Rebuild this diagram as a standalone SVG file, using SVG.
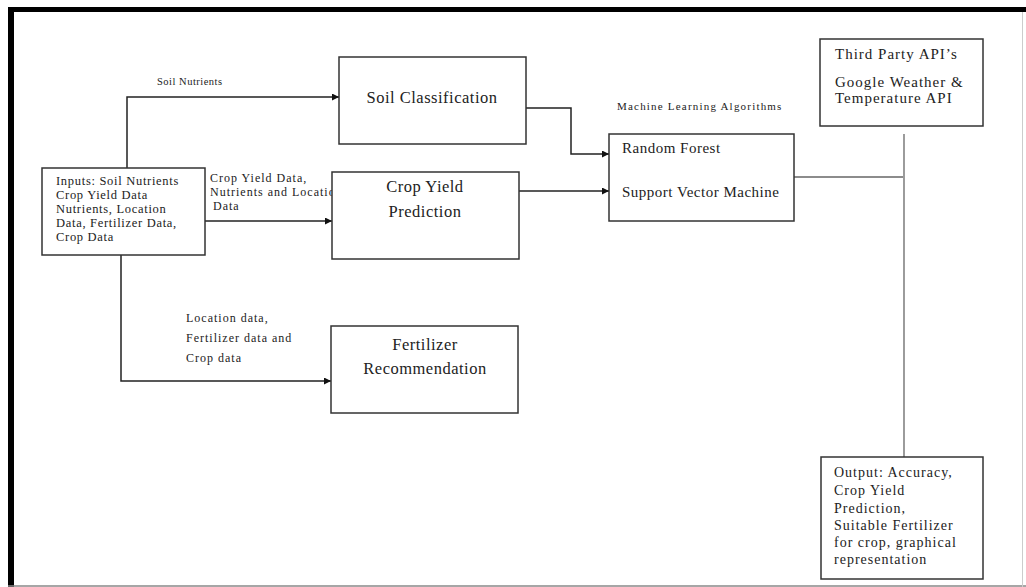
<svg xmlns="http://www.w3.org/2000/svg" width="1026" height="587" viewBox="0 0 1026 587">
<style>
.box{fill:#fff;stroke:#333;stroke-width:1.5}
.t{font-family:"Liberation Serif","Times New Roman",serif;fill:#222}
.title{font-family:"Liberation Serif","Times New Roman",serif;font-size:16.5px;text-anchor:middle;letter-spacing:0.5px}
.lbl{font-size:12px;letter-spacing:1px}
.in{font-size:12.5px;letter-spacing:0.7px}
.ml{font-size:15px;letter-spacing:0.5px}
.tp{font-size:15px;letter-spacing:1px}
.out{font-size:14px;letter-spacing:1px}
.conn{fill:none;stroke:#222;stroke-width:1.5}
.thin{fill:none;stroke:#666;stroke-width:1.3}
</style>
<defs>
<marker id="arr" viewBox="0 0 10 10" refX="10" refY="5" markerWidth="7" markerHeight="7" markerUnits="userSpaceOnUse" orient="auto">
<path d="M0,0 L10,5 L0,10 z" fill="#111"/>
</marker>
</defs>
<rect x="0" y="0" width="1026" height="587" fill="#fff"/>
<g id="frame">
<line x1="11" y1="7" x2="11" y2="587" stroke="#000" stroke-width="6"/>
<line x1="8" y1="9.5" x2="1026" y2="9.5" stroke="#000" stroke-width="5"/>
<line x1="8" y1="586" x2="1026" y2="586" stroke="#888" stroke-width="1.5"/>
<line x1="1022.5" y1="12" x2="1022.5" y2="587" stroke="#ccc" stroke-width="1"/>
</g>
<g id="connectors">
<path class="conn" d="M127,168 V97 H339" marker-end="url(#arr)"/>
<path class="conn" d="M205,221 H332" marker-end="url(#arr)"/>
<path class="conn" d="M121,255 V381 H331" marker-end="url(#arr)"/>
<path class="conn" d="M526,108 H571 V154 H609" marker-end="url(#arr)"/>
<path class="conn" d="M519,191 H609" marker-end="url(#arr)"/>
<path class="thin" d="M794,177 H903"/>
<path class="thin" d="M904,134 V457"/>
<text class="t" x="157" y="85" font-size="10.5" letter-spacing="0.5">Soil Nutrients</text>
<text class="t lbl" x="210" y="182">Crop Yield Data,</text>
<text class="t lbl" x="210" y="196">Nutrients and Locatio</text>
<text class="t lbl" x="213" y="210">Data</text>
<text class="t lbl" x="186" y="322">Location data,</text>
<text class="t lbl" x="186" y="342">Fertilizer data and</text>
<text class="t lbl" x="186" y="362">Crop data</text>
<text class="t" x="617" y="110" font-size="11" letter-spacing="1.2">Machine Learning Algorithms</text>
</g>
<g id="inputs">
<rect class="box" x="42" y="168" width="163" height="87"/>
<text class="t in" x="56" y="185">Inputs: Soil Nutrients</text>
<text class="t in" x="56" y="199">Crop Yield Data</text>
<text class="t in" x="56" y="213">Nutrients, Location</text>
<text class="t in" x="56" y="227">Data, Fertilizer Data,</text>
<text class="t in" x="56" y="241">Crop Data</text>
</g>
<g id="soil-classification">
<rect class="box" x="339" y="57" width="187" height="87"/>
<text class="title" x="432" y="103" fill="#222">Soil Classification</text>
</g>
<g id="crop-yield">
<rect class="box" x="332" y="172" width="187" height="87"/>
<text class="title" x="425" y="192" fill="#222">Crop Yield</text>
<text class="title" x="425" y="217" fill="#222">Prediction</text>
</g>
<g id="fertilizer">
<rect class="box" x="331" y="326" width="187" height="87"/>
<text class="title" x="425" y="350" fill="#222">Fertilizer</text>
<text class="title" x="425" y="374" fill="#222">Recommendation</text>
</g>
<g id="ml">
<rect class="box" x="609" y="134" width="185" height="87"/>
<text class="t ml" x="622" y="153">Random Forest</text>
<text class="t ml" x="622" y="197">Support Vector Machine</text>
</g>
<g id="third-party">
<rect class="box" x="820" y="39" width="163" height="87"/>
<text class="t tp" x="835" y="59">Third Party API’s</text>
<text class="t tp" x="835" y="87">Google Weather &amp;</text>
<text class="t tp" x="835" y="103">Temperature API</text>
</g>
<g id="output">
<rect class="box" x="821" y="457" width="162" height="122"/>
<text class="t out" x="834" y="477">Output: Accuracy,</text>
<text class="t out" x="834" y="495">Crop Yield</text>
<text class="t out" x="834" y="513">Prediction,</text>
<text class="t out" x="834" y="530">Suitable Fertilizer</text>
<text class="t out" x="834" y="547">for crop, graphical</text>
<text class="t out" x="834" y="564">representation</text>
</g>
</svg>
